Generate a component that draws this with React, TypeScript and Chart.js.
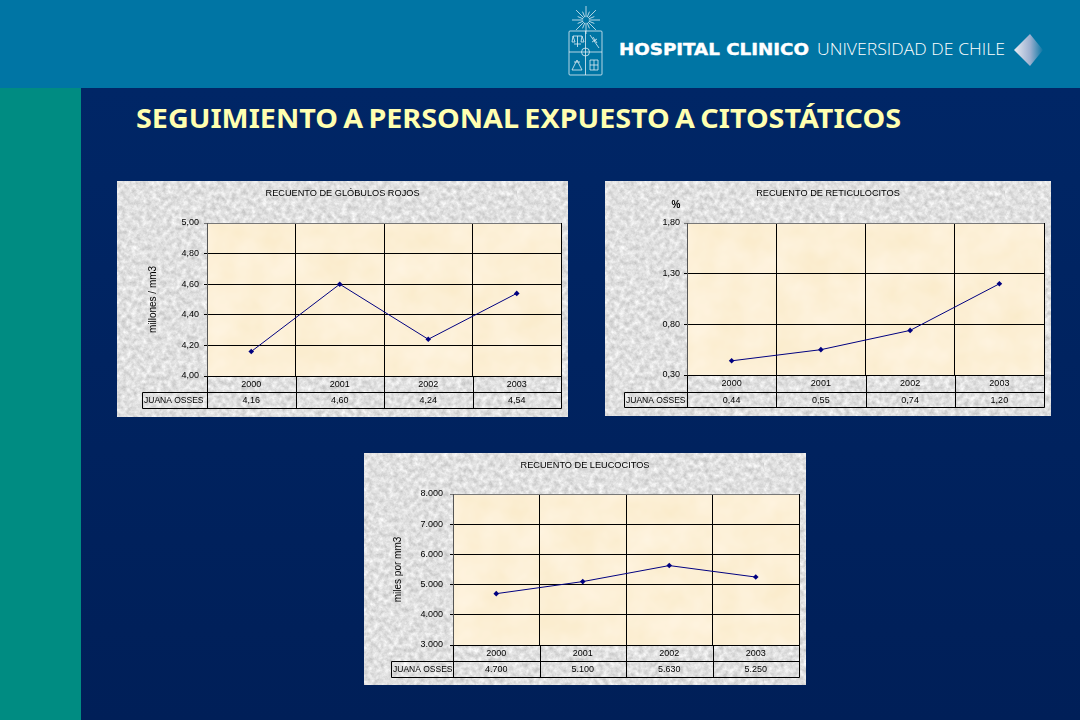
import React, { useEffect, useRef } from "react";
import { Chart, registerables } from "chart.js";

Chart.register(...registerables);

const years = ["2000", "2001", "2002", "2003"];
const personLabel = "JUANA OSSES";

const rojosValues = [4.16, 4.6, 4.24, 4.54];
const reticulocitosValues = [0.44, 0.55, 0.74, 1.2];
const leucocitosValues = [4700, 5100, 5630, 5250];

const rojosTitle = "RECUENTO DE GLÓBULOS ROJOS";
const reticulocitosTitle = "RECUENTO DE RETICULOCITOS";
const leucocitosTitle = "RECUENTO DE LEUCOCITOS";

const comma = (v: number) => v.toFixed(2).replace(".", ",");
const thousands = (v: number) => {
  const s = String(Math.round(v));
  return s.slice(0, -3) + "." + s.slice(-3);
};

const FONT = "'Liberation Sans', Arial, sans-serif";

const svgUri = (s: string) => `url("data:image/svg+xml,${encodeURIComponent(s)}")`;
const grayTexture = svgUri(
  `<svg xmlns='http://www.w3.org/2000/svg' width='400' height='400'><filter id='n' x='0' y='0' width='100%' height='100%' color-interpolation-filters='sRGB'><feTurbulence type='fractalNoise' baseFrequency='0.2' numOctaves='4' seed='7'/><feColorMatrix values='0.3 0 0 0 0.73  0.3 0 0 0 0.73  0.3 0 0 0 0.73  0 0 0 0 1'/></filter><rect width='400' height='400' filter='url(#n)'/></svg>`
);
const beigeTexture = svgUri(
  `<svg xmlns='http://www.w3.org/2000/svg' width='400' height='200'><filter id='n' x='0' y='0' width='100%' height='100%' color-interpolation-filters='sRGB'><feTurbulence type='fractalNoise' baseFrequency='0.035' numOctaves='3' seed='3'/><feColorMatrix values='0 0.02 0 0 0.98  0 0.04 0 0 0.92  0 0.1 0 0 0.79  0 0 0 0 1'/></filter><rect width='400' height='200' filter='url(#n)'/></svg>`
);

type PanelSpec = {
  title: string;
  values: number[];
  fmt: (v: number) => string;
  min: number;
  max: number;
  step: number;
  axisTitle?: string;
  topUnit?: string;
  box: { l: number; t: number; r: number; b: number };
  plot: { l: number; t: number; r: number; b: number };
  row1: number;
  row2: number;
  labelLeft: number;
  axisLeftPad: number;
  tickPad: number;
};

const panels: PanelSpec[] = [
  {
    title: rojosTitle,
    values: rojosValues,
    fmt: comma,
    min: 4,
    max: 5,
    step: 0.2,
    axisTitle: "millones / mm3",
    box: { l: 117, t: 181, r: 568, b: 417 },
    plot: { l: 207, t: 223, r: 561, b: 376 },
    row1: 392,
    row2: 408,
    labelLeft: 142,
    axisLeftPad: 30,
    tickPad: 5,
  },
  {
    title: reticulocitosTitle,
    values: reticulocitosValues,
    fmt: comma,
    min: 0.3,
    max: 1.8,
    step: 0.5,
    topUnit: "%",
    box: { l: 605, t: 181, r: 1051, b: 416 },
    plot: { l: 687, t: 223, r: 1044, b: 375 },
    row1: 392,
    row2: 407,
    labelLeft: 624,
    axisLeftPad: 30,
    tickPad: 4,
  },
  {
    title: leucocitosTitle,
    values: leucocitosValues,
    fmt: thousands,
    min: 3000,
    max: 8000,
    step: 1000,
    axisTitle: "miles por mm3",
    box: { l: 364, t: 453, r: 806, b: 685 },
    plot: { l: 453, t: 494, r: 799, b: 645 },
    row1: 661,
    row2: 677,
    labelLeft: 391,
    axisLeftPad: 28,
    tickPad: 7,
  },
];

function Panel({ spec }: { spec: PanelSpec }) {
  const ref = useRef<HTMLCanvasElement | null>(null);
  useEffect(() => {
    if (!ref.current) return;
    const { box, plot } = spec;
    const tablePlugin = {
      id: "dataTable",
      afterLayout(chart: any) {
        if (chart.titleBlock) {
          chart.titleBlock.left = 0;
          chart.titleBlock.right = chart.width;
        }
      },
      afterDraw(chart: any) {
        const { ctx, chartArea, scales } = chart;
        const x = scales.x;
        const rowA = spec.row1 - box.t;
        const rowB = spec.row2 - box.t;
        const top = chartArea.bottom;
        const pts = years.map((_, i) => x.getPixelForValue(i));
        const half = (pts[1] - pts[0]) / 2;
        const bounds = [...pts.map((p) => p - half), pts[pts.length - 1] + half];
        const lab = spec.labelLeft - box.l;
        ctx.save();
        ctx.strokeStyle = "#000";
        ctx.lineWidth = 1;
        const seg = (a: number, b: number, c: number, d: number) => {
          ctx.beginPath();
          ctx.moveTo(Math.round(a) + 0.5, Math.round(b) + 0.5);
          ctx.lineTo(Math.round(c) + 0.5, Math.round(d) + 0.5);
          ctx.stroke();
        };
        seg(bounds[0], top, bounds[4], top);
        seg(lab, rowA, bounds[4], rowA);
        seg(lab, rowB, bounds[4], rowB);
        seg(lab, rowA, lab, rowB);
        bounds.forEach((b) => seg(b, top, b, rowB));
        ctx.fillStyle = "#000";
        const yMid = (rowA + rowB) / 2 + 1;
        ctx.textBaseline = "middle";
        ctx.font = `8.5px ${FONT}`;
        ctx.textAlign = "left";
        ctx.fillText(personLabel, lab + 2, yMid);
        ctx.font = `9px ${FONT}`;
        ctx.textAlign = "center";
        spec.values.forEach((v, i) => ctx.fillText(spec.fmt(v), pts[i], yMid));
        if (spec.topUnit) {
          ctx.font = `bold 10px ${FONT}`;
          ctx.fillText(spec.topUnit, 71, 24);
        }
        ctx.restore();
      },
    };
    const chart = new Chart(ref.current, {
      type: "line",
      data: {
        labels: years,
        datasets: [
          {
            label: personLabel,
            data: spec.values,
            borderColor: "#000080",
            backgroundColor: "#000080",
            borderWidth: 1,
            pointStyle: "rectRot",
            pointRadius: 2.8,
            pointBorderWidth: 0,
            tension: 0,
          },
        ],
      },
      options: {
        animation: false,
        responsive: false,
        maintainAspectRatio: false,
        devicePixelRatio: 1,
        layout: {
          padding: {
            left: spec.axisLeftPad,
            right: box.r - plot.r,
            top: 0,
            bottom: box.b - spec.row2,
          },
        },
        plugins: {
          legend: { display: false },
          tooltip: { enabled: false },
          title: {
            display: true,
            text: spec.title,
            color: "#000",
            font: { family: FONT, size: 9.2, weight: "normal", lineHeight: 1 },
            padding: { top: 8, bottom: plot.t - box.t - 17.2 },
          },
        },
        scales: {
          x: {
            offset: true,
            grid: {
              offset: true,
              color: (c: any) => (c.index === years.length ? "#777" : "#000"),
              lineWidth: 1,
              drawTicks: false,
            },
            border: { color: "#000" },
            ticks: {
              color: "#000",
              font: { family: FONT, size: 9 },
              padding: 3,
              maxRotation: 0,
              autoSkip: false,
            },
            afterFit(scale: any) {
              scale.height = spec.row2 - plot.b;
            },
          },
          y: {
            min: spec.min,
            max: spec.max,
            grid: {
              color: (c: any) => (c.tick && Math.abs(c.tick.value - spec.max) < 1e-6 ? "#777" : "#000"),
              lineWidth: 1,
              tickLength: 3,
            },
            border: { color: "#555" },
            ticks: {
              stepSize: spec.step,
              color: "#000",
              font: { family: FONT, size: 9 },
              padding: spec.tickPad,
              callback: (v: any) => spec.fmt(Number(v)),
            },
            title: spec.axisTitle
              ? {
                  display: true,
                  text: spec.axisTitle,
                  color: "#000",
                  font: { family: FONT, size: 10 },
                  padding: 0,
                }
              : { display: false },
            afterFit(scale: any) {
              scale.width = plot.l - box.l - spec.axisLeftPad;
            },
          },
        },
      } as any,
      plugins: [tablePlugin],
    });
    return () => chart.destroy();
  }, [spec]);
  const { box, plot } = spec;
  return (
    <div
      style={{
        position: "absolute",
        left: box.l,
        top: box.t,
        width: box.r - box.l,
        height: box.b - box.t,
        backgroundImage: grayTexture,
        backgroundColor: "#e0e0e0",
      }}
    >
      <div
        style={{
          position: "absolute",
          left: plot.l - box.l,
          top: plot.t - box.t,
          width: plot.r - plot.l,
          height: plot.b - plot.t,
          backgroundImage: beigeTexture,
          backgroundColor: "#fdf0d8",
        }}
      />
      <canvas
        ref={ref}
        width={box.r - box.l}
        height={box.b - box.t}
        style={{ position: "absolute", left: 0, top: 0, width: box.r - box.l, height: box.b - box.t }}
      />
    </div>
  );
}

function Logo() {
  const rays = Array.from({ length: 16 }, (_, i) => (i * Math.PI) / 8);
  return (
    <svg width={1080} height={88} style={{ position: "absolute", left: 0, top: 0 }}>
      <defs>
        <linearGradient id="dia" x1="0" x2="1" y1="0" y2="0">
          <stop offset="0" stopColor="#e8ebf3" />
          <stop offset="0.55" stopColor="#9fb1d0" />
          <stop offset="1" stopColor="#0a76a4" />
        </linearGradient>
      </defs>
      <g stroke="#e2eff5" fill="none" strokeWidth={0.8}>
        {rays.map((a, i) => (
          <line
            key={i}
            x1={586 + 3 * Math.cos(a)}
            y1={20 + 3 * Math.sin(a)}
            x2={586 + (i % 2 ? 9 : 14) * Math.cos(a)}
            y2={20 + (i % 2 ? 9 : 14) * Math.sin(a)}
          />
        ))}
        <rect x={569} y={31} width={33} height={44} rx={1} />
        <line x1={585.5} y1={31} x2={585.5} y2={75} />
        <line x1={569} y1={52} x2={602} y2={52} />
        <circle cx={585.5} cy={52} r={4} />
        <path d="M573 36h9M577.5 36v11M574 44h7M573 36l-1 6h3zM582 36l-1 6h3zM590 35l9 13M592 42l5-3M593 37l4 6M572 70l5-10 5 10zM574 62h6M590 60h8v10h-8zM590 65h8M594 60v10" />
      </g>
      <text
        x={619}
        y={55}
        fontFamily="'DejaVu Sans', sans-serif"
        fontWeight="bold"
        fontSize={16}
        fill="#ffffff"
        stroke="#ffffff"
        strokeWidth={0.4}
        textLength={190}
        lengthAdjust="spacingAndGlyphs"
      >
        HOSPITAL CLINICO
      </text>
      <text
        x={817}
        y={55}
        fontFamily="'Open Sans', sans-serif"
        fontWeight={300}
        fontSize={16.5}
        fill="#ffffff"
        textLength={188}
        lengthAdjust="spacingAndGlyphs"
      >
        UNIVERSIDAD DE CHILE
      </text>
      <polygon points="1014,50 1030,34 1043,50 1030,66" fill="url(#dia)" />
    </svg>
  );
}

export default function App() {
  return (
    <div
      style={{
        position: "fixed",
        left: 0,
        top: 0,
        width: 1080,
        height: 720,
        overflow: "hidden",
        background: "linear-gradient(180deg,#002768 0%,#001f58 100%)",
      }}
    >
      <div style={{ position: "absolute", left: 0, top: 0, width: 1080, height: 88, background: "#0075a4" }} />
      <div style={{ position: "absolute", left: 0, top: 88, width: 81, height: 632, background: "#008c82" }} />
      <Logo />
      <svg width={1080} height={60} style={{ position: "absolute", left: 0, top: 90 }}>
        <text
          x={136}
          y={37.5}
          fontFamily="'Noto Sans', sans-serif"
          fontWeight="bold"
          fontSize={26.5}
          fill="#ffffb0"
          wordSpacing={-2}
          textLength={765}
          lengthAdjust="spacingAndGlyphs"
        >
          SEGUIMIENTO A PERSONAL EXPUESTO A CITOSTÁTICOS
        </text>
      </svg>
      {panels.map((p) => (
        <Panel key={p.title} spec={p} />
      ))}
    </div>
  );
}
